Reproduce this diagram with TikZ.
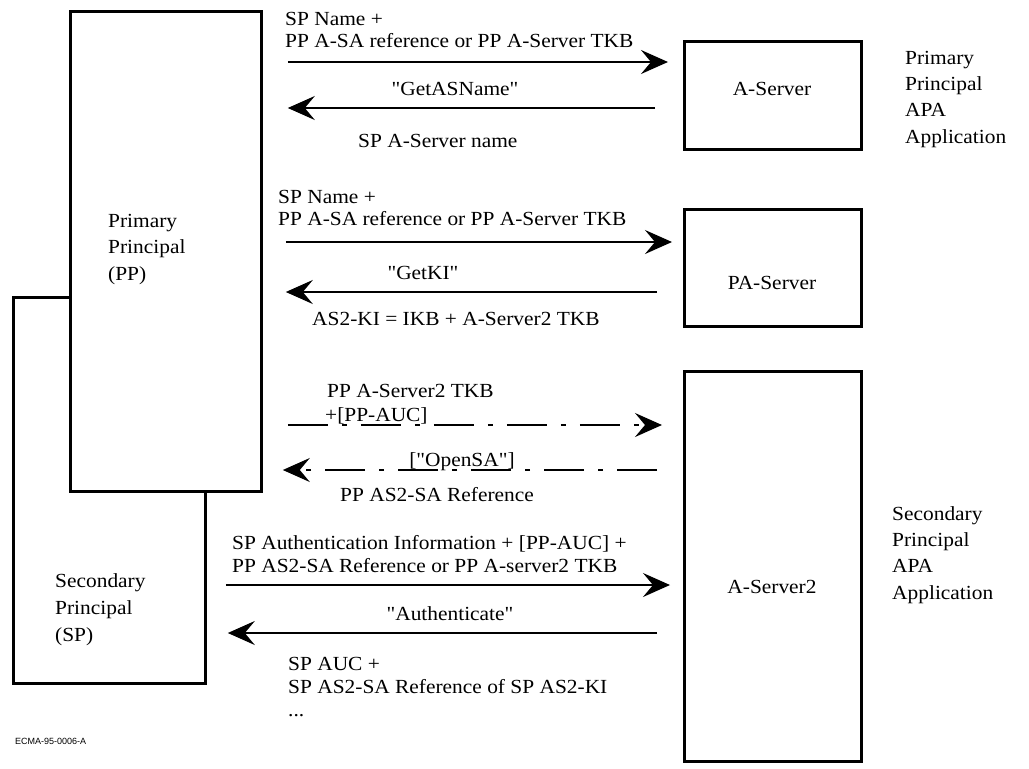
\documentclass[tikz,border=0pt]{standalone}
\usepackage{fontspec}
\setmainfont{Liberation Serif}[FakeStretch=1.07, Ligatures=TeXOff]
\newfontfamily\tagfont{Liberation Sans}
\usetikzlibrary{arrows.meta}

\tikzset{
  box/.style={draw, line width=2.8pt, fill=white, inner sep=0pt, anchor=north west},
  txt/.style={inner sep=0pt, anchor=base west, font=\fontsize{20}{22}\selectfont},
  ctxt/.style={txt, anchor=base},
  msg/.style={line width=1.9pt, -{Stealth[length=27pt, width=24pt, inset=10pt]}},
  dmsg/.style={msg, dash pattern=on 40pt off 14pt on 5pt off 14pt},
}

\begin{document}
\begin{tikzpicture}[x=1pt, y=-1pt]
\useasboundingbox (0,0) rectangle (1029,769);

% principals (PP drawn over SP)
\node[box, minimum width=192pt, minimum height=386pt] (sp) at (12,296) {};
\node[box, minimum width=191pt, minimum height=480pt] (pp) at (69,10) {};

% servers
\node[box, minimum width=177pt, minimum height=108pt] (as)  at (683,40) {};
\node[box, minimum width=177pt, minimum height=117pt] (pas) at (683,208) {};
\node[box, minimum width=177pt, minimum height=390pt] (as2) at (683,370) {};

% box labels
\node[txt] (pp1) at (108,227) {Primary};
\node[txt] (pp2) at (108,253) {Principal};
\node[txt] (pp3) at (108,280) {(PP)};
\node[txt] (sp1) at (55,587) {Secondary};
\node[txt] (sp2) at (55,614) {Principal};
\node[txt] (sp3) at (55,641) {(SP)};
\node[ctxt] (asl)  at (772,95)  {A-Server};
\node[ctxt] (pasl) at (772,289) {PA-Server};
\node[ctxt] (as2l) at (772,593) {A-Server2};

% application labels
\node[txt] (pa1) at (905,64)  {Primary};
\node[txt] (pa2) at (905,90)  {Principal};
\node[txt] (pa3) at (905,116) {APA};
\node[txt] (pa4) at (905,143) {Application};
\node[txt] (sa1) at (892,520) {Secondary};
\node[txt] (sa2) at (892,546) {Principal};
\node[txt] (sa3) at (892,572) {APA};
\node[txt] (sa4) at (892,599) {Application};

% GetASName exchange
\node[txt] (m1a) at (285,25) {SP Name +};
\node[txt] (m1b) at (285,47) {PP A-SA reference or PP A-Server TKB};
\draw[msg, shorten <=25pt, shorten >=15pt] (pp.east |- 0,62) -- (as.west |- 0,62);
\node[ctxt] (m2a) at (455,95) {"GetASName"};
\draw[msg, shorten <=28pt, shorten >=25pt] (as.west |- 0,108) -- (pp.east |- 0,108);
\node[txt] (m2b) at (358,147) {SP A-Server name};

% GetKI exchange
\node[txt] (m3a) at (278,203) {SP Name +};
\node[txt] (m3b) at (278,225) {PP A-SA reference or PP A-Server TKB};
\draw[msg, shorten <=23pt, shorten >=11pt] (pp.east |- 0,242) -- (pas.west |- 0,242);
\node[ctxt] (m4a) at (423,279) {"GetKI"};
\draw[msg, shorten <=26pt, shorten >=23pt] (pas.west |- 0,292) -- (pp.east |- 0,292);
\node[txt] (m4b) at (312,325) {AS2-KI = IKB + A-Server2 TKB};

% optional OpenSA exchange
\node[txt] (m5a) at (327,397) {PP A-Server2 TKB};
\node[txt] (m5b) at (325,421) {+[PP-AUC]};
\draw[dmsg, shorten <=25pt, shorten >=21pt] (pp.east |- 0,425) -- (as2.west |- 0,425);
\node[ctxt] (m6a) at (462,466) {["OpenSA"]};
\draw[dmsg, shorten <=26pt, shorten >=20pt] (as2.west |- 0,470) -- (pp.east |- 0,470);
\node[txt] (m6b) at (340,501) {PP AS2-SA Reference};

% Authenticate exchange
\node[txt] (m7a) at (232,549) {SP Authentication Information + [PP-AUC] +};
\node[txt] (m7b) at (232,572) {PP AS2-SA Reference or PP A-server2 TKB};
\draw[msg, shorten <=19pt, shorten >=13pt] (sp.east |- 0,585) -- (as2.west |- 0,585);
\node[ctxt] (m8a) at (450,620) {"Authenticate"};
\draw[msg, shorten <=26pt, shorten >=21pt] (as2.west |- 0,633) -- (sp.east |- 0,633);
\node[txt] (m8b) at (288,670) {SP AUC +};
\node[txt] (m8c) at (288,693) {SP AS2-SA Reference of SP AS2-KI};
\node[txt] (m8d) at (288,716) {...};

% figure tag
\node[inner sep=0pt, anchor=base west, font=\tagfont\fontsize{9}{10}\selectfont] (tag) at (15,744) {ECMA-95-0006-A};
\end{tikzpicture}
\end{document}
